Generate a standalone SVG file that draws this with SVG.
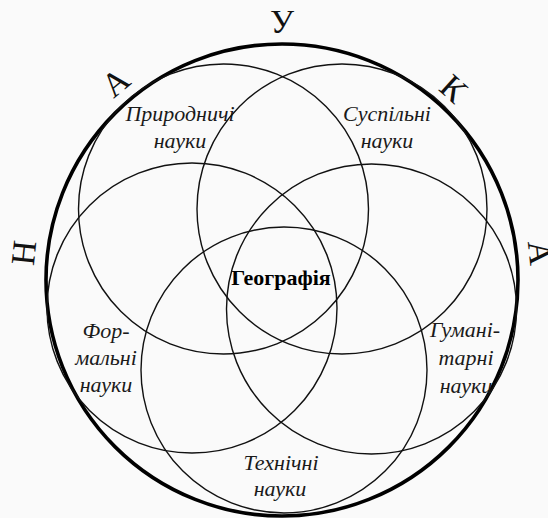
<svg xmlns="http://www.w3.org/2000/svg" width="548" height="518" viewBox="0 0 548 518">
  <style>
    .bg { fill: #fafafa; }
    .ring { fill: none; stroke: #111; stroke-width: 1.4; }
    .outer { fill: none; stroke: #000; stroke-width: 3.6; }
    .lbl { font-family: "Liberation Serif", "Times New Roman", serif; font-style: italic; font-size: 22px; fill: #1a1a1a; text-anchor: middle; }
    .core { font-family: "Liberation Serif", "Times New Roman", serif; font-weight: bold; font-size: 22px; fill: #000; text-anchor: middle; }
    .big { font-family: "Liberation Serif", "Times New Roman", serif; font-size: 34px; fill: #111; text-anchor: middle; }
  </style>
  <rect class="bg" x="0" y="0" width="548" height="518"/>

  <g id="nauka">
    <circle class="outer" cx="282" cy="280" r="236"/>
    <text class="big" transform="translate(35,254) rotate(-84)">Н</text>
    <text class="big" transform="translate(123,91) rotate(-40)">А</text>
    <text class="big" transform="translate(282,33)">У</text>
    <text class="big" transform="translate(446,97) rotate(42)">К</text>
    <text class="big" transform="translate(529,254) rotate(84)">А</text>
  </g>

  <g id="pryrodnychi">
    <circle class="ring" cx="223.5" cy="209" r="145"/>
    <text class="lbl" x="180" y="121">Природничі</text>
    <text class="lbl" x="180" y="148">науки</text>
  </g>

  <g id="suspilni">
    <circle class="ring" cx="342" cy="209" r="145"/>
    <text class="lbl" x="387" y="121">Суспільні</text>
    <text class="lbl" x="387" y="148">науки</text>
  </g>

  <g id="formalni">
    <circle class="ring" cx="192" cy="308" r="145"/>
    <text class="lbl" x="106" y="338">Фор-</text>
    <text class="lbl" x="106" y="365">мальні</text>
    <text class="lbl" x="106" y="392">науки</text>
  </g>

  <g id="humanitarni">
    <circle class="ring" cx="371.5" cy="309" r="145"/>
    <text class="lbl" x="465" y="337">Гумані-</text>
    <text class="lbl" x="466" y="365">тарні</text>
    <text class="lbl" x="466" y="393">науки</text>
  </g>

  <g id="tekhnichni">
    <circle class="ring" cx="284" cy="370" r="143"/>
    <text class="lbl" x="281" y="470">Технічні</text>
    <text class="lbl" x="280" y="496">науки</text>
  </g>

  <g id="heohrafiia">
    <text class="core" x="281" y="285">Географія</text>
  </g>

  <g id="connectors"/>
</svg>
